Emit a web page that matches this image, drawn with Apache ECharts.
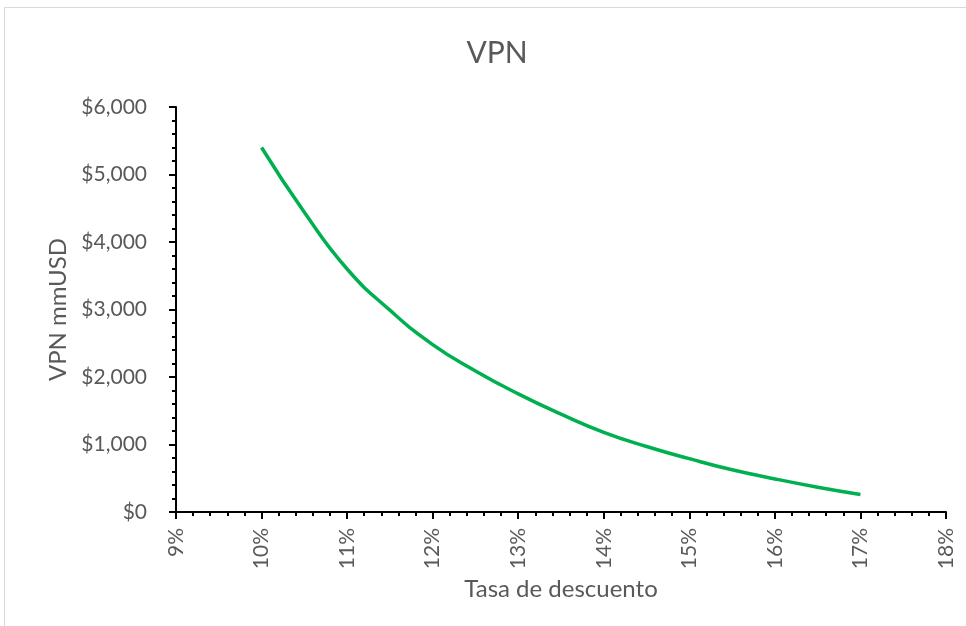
<!DOCTYPE html>
<html>
<head>
<meta charset="utf-8">
<script src="https://cdn.jsdelivr.net/npm/echarts@6/dist/echarts.min.js"></script>
<style>
  html, body { margin: 0; padding: 0; background: #fff; }
  #chart { width: 966px; height: 626px; }
</style>
</head>
<body>
<div id="chart"></div>
<script>
// discount rate (fraction) and NPV in mmUSD
const rates = [0.10, 0.105, 0.11, 0.115, 0.12, 0.125, 0.13, 0.135, 0.14, 0.145, 0.15, 0.155, 0.16, 0.165, 0.17];
const vpn = [5400, 4440, 3600, 2990, 2480, 2090, 1750, 1450, 1180, 970, 790, 625, 490, 368, 260];

const chart = echarts.init(document.getElementById('chart'));

const textColor = '#595959';
const font = 'Lato, "Open Sans", sans-serif';

const option = {
  animation: false,
  title: {
    text: 'VPN',
    left: 492,
    top: 33,
    textAlign: 'center',
    textStyle: { color: textColor, fontSize: 30, fontWeight: 'normal', fontFamily: font },
  },
  graphic: [
    {
      type: 'rect',
      shape: { x: 4.5, y: 7.5, width: 1000, height: 700 },
      style: { fill: 'none', stroke: '#d9d9d9', lineWidth: 1 },
      silent: true,
    },
  ],
  grid: { left: 176, right: 20, top: 107, bottom: 114 },
  xAxis: {
    type: 'value',
    min: 0.09,
    max: 0.18,
    interval: 0.01,
    name: 'Tasa de descuento',
    nameLocation: 'middle',
    nameGap: 57,
    nameTextStyle: { color: textColor, fontSize: 24, fontFamily: font },
    axisLine: { lineStyle: { color: '#000', width: 2 } },
    axisTick: { length: 7, lineStyle: { color: '#000', width: 2 } },
    minorTick: { show: true, splitNumber: 5, length: 4, lineStyle: { color: '#000', width: 2 } },
    splitLine: { show: false },
    axisLabel: {
      rotate: 90,
      margin: 16,
      color: textColor,
      fontSize: 21,
      fontFamily: font,
      formatter: (v) => Math.round(v * 100) + '%',
    },
  },
  yAxis: {
    type: 'value',
    min: 0,
    max: 6000,
    interval: 1000,
    name: 'VPN mmUSD',
    nameLocation: 'middle',
    nameGap: 104,
    nameTextStyle: { color: textColor, fontSize: 24, fontFamily: font },
    axisLine: { show: true, lineStyle: { color: '#000', width: 2 } },
    axisTick: { show: true, length: 7, lineStyle: { color: '#000', width: 2 } },
    minorTick: { show: true, splitNumber: 5, length: 4, lineStyle: { color: '#000', width: 2 } },
    splitLine: { show: false },
    axisLabel: {
      margin: 29,
      color: textColor,
      fontSize: 21,
      fontFamily: font,
      formatter: (v) => '$' + v.toLocaleString('en-US'),
    },
  },
  series: [
    {
      name: 'VPN',
      type: 'line',
      smooth: 0.5,
      showSymbol: false,
      lineStyle: { color: '#00B050', width: 3.5 },
      data: rates.map((r, i) => [r, vpn[i]]),
    },
  ],
};

chart.setOption(option);
</script>
</body>
</html>
